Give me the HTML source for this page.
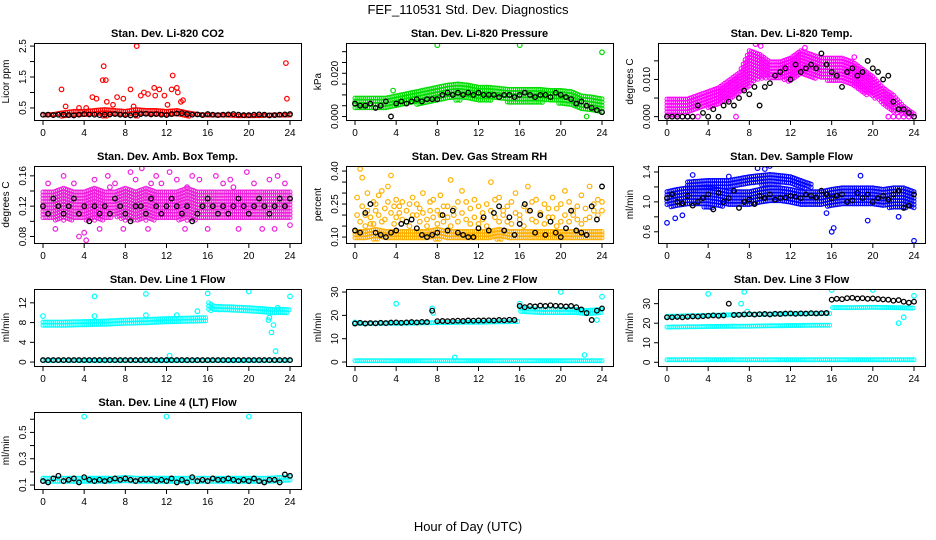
<!DOCTYPE html>
<html><head><meta charset="utf-8"><style>
html,body{margin:0;padding:0;background:#fff;}
svg{display:block;font-family:"Liberation Sans",sans-serif;}
</style></head><body>
<svg id="c" width="936" height="540" viewBox="0 0 936 540">
<rect width="936" height="540" fill="#fff"/>
<text x="468" y="14" text-anchor="middle" font-size="13">FEF_110531  Std. Dev. Diagnostics</text>
<text x="468" y="531" text-anchor="middle" font-size="13">Hour of Day (UTC)</text>
</svg>
<script>
const xTicks=[0,4,8,12,16,20,24];
const full=[0,1,2,3,4,5,6,7,8,9,10,11,12,13,14,15,16,17,18,19,20,21,22,23,24];
// P1 CO2
const co2Lo=[0.2,0.2,0.2,0.2,0.2,0.2,0.2,0.2,0.2,0.2,0.2,0.2,0.2,0.2,0.2,0.2,0.2,0.2,0.2,0.2,0.2,0.2,0.2,0.2,0.2];
const co2Hi=[0.3,0.32,0.38,0.42,0.42,0.45,0.48,0.45,0.42,0.48,0.45,0.45,0.42,0.45,0.38,0.32,0.3,0.3,0.3,0.28,0.28,0.28,0.3,0.3,0.3];
const co2OutX=[1.8,5.8,5.9,6.1,9.1,12.6,13.0,23.6,23.7,4.8,10.8,8.5,9.8,7.2,3.5,11.3,12.5,13.6,5.2,7.8,10.2,9.5,6.2,11.8,10.9,13.1,2.2,4.2,6.8,8.8,12.1,13.4];
const co2OutY=[1.1,1.4,1.85,1.4,2.5,1.55,1.15,1.95,0.8,0.85,1.15,1.1,1.0,0.85,0.5,1.1,1.1,0.75,0.8,0.8,0.95,0.9,0.7,0.9,0.9,1.0,0.55,0.5,0.6,0.55,0.6,0.7];
const co2Blk=[0.28,0.28,0.27,0.28,0.28,0.27,0.26,0.28,0.30,0.29,0.28,0.27,0.28,0.29,0.30,0.28,0.27,0.26,0.28,0.30,0.31,0.29,0.30,0.28,0.27,0.30,0.32,0.33,0.30,0.28,0.29,0.27,0.30,0.28,0.27,0.28,0.29,0.30,0.28,0.27,0.27,0.28,0.29,0.28,0.26,0.27,0.28,0.29,0.30];
// P2 Pressure
const prLo=[0.003,0.003,0.003,0.003,0.004,0.005,0.005,0.006,0.006,0.007,0.007,0.007,0.007,0.007,0.007,0.006,0.006,0.006,0.006,0.006,0.0055,0.005,0.003,0.002,0.0016];
const prHi=[0.009,0.009,0.009,0.009,0.010,0.011,0.012,0.013,0.014,0.015,0.0155,0.015,0.014,0.014,0.0135,0.013,0.013,0.013,0.013,0.0125,0.0125,0.012,0.010,0.0095,0.0086];
const prOutX=[8,16,24,22.5,3.7];
const prOutY=[0.033,0.033,0.0297,0.0,0.012];
const prBlk=[0.006,0.005,0.005,0.006,0.004,0.005,0.007,0.0,0.006,0.007,0.006,0.007,0.008,0.007,0.008,0.008,0.008,0.010,0.011,0.010,0.011,0.010,0.011,0.010,0.011,0.010,0.010,0.010,0.009,0.010,0.010,0.009,0.010,0.011,0.010,0.009,0.010,0.010,0.009,0.011,0.010,0.009,0.008,0.006,0.007,0.005,0.004,0.003,0.002];
// P3 Li-820 Temp
const tmLo=[0,0,0.001,0.002,0.002,0.003,0.004,0.006,0.008,0.010,0.010,0.010,0.009,0.011,0.010,0.010,0.009,0.009,0.008,0.006,0.005,0.003,0.001,0,0];
const tmHi=[0.005,0.005,0.005,0.006,0.007,0.008,0.010,0.012,0.018,0.017,0.015,0.015,0.016,0.018,0.017,0.016,0.016,0.016,0.015,0.013,0.011,0.008,0.006,0.003,0.001];
const tmOutX=[0.5,1,1.5,2,2.5,3,6.7,21.5,22,22.5,23,23.5,24,8.6,9.1,13.4,18.2];
const tmOutY=[0,0,0,0,0,0,0,0,0,0,0,0,0,0.0195,0.019,0.0185,0.016];
const tmBlk=[0,0,0,0,0,0,0.003,0.001,0,0.002,0,0.003,0.004,0.003,0.005,0.007,0.006,0.008,0.003,0.008,0.009,0.011,0.012,0.013,0.010,0.014,0.012,0.013,0.014,0.013,0.017,0.014,0.012,0.011,0.008,0.012,0.013,0.011,0.012,0.015,0.013,0.012,0.010,0.011,0.004,0.002,0.002,0.001,0];
// P4 Amb box temp
const abLo=[0.10,0.10,0.10,0.10,0.10,0.10,0.10,0.105,0.10,0.10,0.10,0.10,0.10,0.10,0.10,0.10,0.10,0.10,0.10,0.10,0.10,0.10,0.10,0.10,0.10];
const abHi=[0.14,0.14,0.145,0.14,0.14,0.145,0.14,0.14,0.145,0.14,0.145,0.14,0.14,0.14,0.145,0.14,0.14,0.14,0.14,0.14,0.14,0.14,0.14,0.14,0.14];
const abOutX=[0.5,1.2,2,3,3.5,4.2,5,5.5,6.3,7,7.8,8.5,9,9.6,10.2,11,11.5,12.3,13,13.8,14.5,15.2,16,16.8,17.5,18.2,19,19.8,20.5,21.3,22,22.8,23.5,24,4,6.5,10.5,14,18.5,22.5];
const abOutY=[0.15,0.09,0.16,0.15,0.08,0.075,0.155,0.09,0.16,0.15,0.09,0.165,0.155,0.17,0.09,0.16,0.15,0.165,0.155,0.09,0.16,0.155,0.09,0.16,0.15,0.155,0.09,0.165,0.15,0.09,0.155,0.16,0.15,0.095,0.085,0.145,0.15,0.145,0.145,0.09];
const abBlk=[0.12,0.11,0.13,0.12,0.11,0.12,0.13,0.11,0.12,0.10,0.12,0.11,0.12,0.11,0.13,0.12,0.11,0.10,0.12,0.12,0.11,0.13,0.12,0.11,0.12,0.13,0.12,0.11,0.12,0.10,0.11,0.12,0.13,0.12,0.11,0.12,0.11,0.12,0.13,0.12,0.11,0.12,0.13,0.12,0.11,0.12,0.13,0.12,0.13];
// P5 Gas stream RH
const rhLo=[0.085,0.085,0.085,0.085,0.085,0.085,0.085,0.085,0.085,0.085,0.085,0.085,0.085,0.085,0.085,0.085,0.085,0.085,0.085,0.085,0.085,0.085,0.085,0.085,0.085];
const rhHi=[0.13,0.13,0.14,0.13,0.13,0.13,0.13,0.13,0.14,0.13,0.13,0.13,0.13,0.13,0.14,0.13,0.13,0.13,0.13,0.13,0.13,0.13,0.13,0.13,0.13];
const rhOutX=[0.2,0.5,0.7,1,1.2,1.5,1.8,2,2.3,2.6,2.9,3.2,3.5,3.8,4,4.3,4.6,5,5.3,5.6,6,6.3,6.6,7,7.3,7.6,8,8.3,8.6,9,9.3,9.6,10,10.4,10.8,11.2,11.6,12,12.4,12.8,13.2,13.6,14,14.4,14.8,15.2,15.6,16,16.4,16.8,17.2,17.6,18,18.4,18.8,19.2,19.6,20,20.4,20.8,21.2,21.6,22,22.4,22.8,23.2,23.6,24];
const rhOutY=[0.28,0.41,0.37,0.2,0.3,0.16,0.26,0.22,0.29,0.31,0.18,0.33,0.38,0.24,0.27,0.21,0.26,0.17,0.25,0.28,0.2,0.23,0.3,0.15,0.26,0.19,0.22,0.29,0.17,0.24,0.36,0.2,0.26,0.31,0.18,0.23,0.27,0.16,0.21,0.25,0.35,0.19,0.28,0.22,0.17,0.26,0.3,0.2,0.24,0.33,0.18,0.27,0.21,0.25,0.19,0.28,0.23,0.17,0.31,0.26,0.2,0.24,0.29,0.18,0.33,0.22,0.27,0.26];
const rhOut2Y=[0.2,0.17,0.24,0.15,0.22,0.19,0.16,0.25,0.2,0.17,0.23,0.26,0.21,0.16,0.19,0.24,0.18,0.22,0.15,0.2,0.25,0.17,0.21,0.18,0.22,0.27,0.16,0.2,0.24,0.19,0.15,0.23,0.17,0.21,0.26,0.16,0.19,0.24,0.18,0.15,0.22,0.27,0.17,0.2,0.24,0.16,0.21,0.18,0.15,0.22,0.26,0.17,0.2,0.16,0.23,0.19,0.15,0.25,0.2,0.17,0.22,0.18,0.16,0.23,0.19,0.25,0.2,0.22];
const rhBlk=[0.13,0.12,0.21,0.25,0.12,0.11,0.10,0.12,0.13,0.16,0.17,0.18,0.14,0.11,0.10,0.11,0.12,0.20,0.13,0.22,0.12,0.11,0.10,0.10,0.14,0.19,0.13,0.21,0.24,0.13,0.19,0.11,0.16,0.25,0.22,0.12,0.20,0.11,0.17,0.12,0.10,0.14,0.22,0.13,0.12,0.11,0.24,0.18,0.33];
// P6 Sample flow
const sfLo=[0.92,0.9,0.92,0.93,0.9,0.92,0.93,0.94,0.95,0.95,0.96,0.96,0.95,0.95,0.94,0.93,0.92,0.92,0.93,0.93,0.92,0.92,0.9,0.9,0.9];
const sfHi=[1.15,1.18,1.2,1.2,1.2,1.18,1.15,1.15,1.15,1.18,1.2,1.2,1.18,1.15,1.15,1.15,1.18,1.2,1.2,1.2,1.2,1.18,1.2,1.2,1.15];
const sfUpX=[2,4,6,8,10,12,14];
const sfUpLo=[1.12,1.15,1.18,1.2,1.22,1.2,1.15];
const sfUpHi=[1.28,1.3,1.3,1.35,1.38,1.35,1.25];
const sfOutX=[0.8,1.5,0,8.8,10,9.5,16,16.2,24,19.5,22.5,15.5,2.5,6,18.8];
const sfOutY=[0.78,0.82,0.72,1.45,1.48,1.44,0.6,0.65,0.48,0.75,0.8,0.85,1.36,1.34,1.35];
const sfBlk=[1.05,1.1,1.0,0.98,1.08,0.95,1.0,1.05,1.1,0.9,1.12,1.0,1.05,1.15,0.92,1.0,1.03,0.97,1.08,1.05,1.1,1.03,1.05,1.06,1.08,1.07,1.05,1.1,1.08,1.06,1.15,1.1,1.05,1.08,1.1,1.0,1.02,1.12,1.05,1.1,1.0,1.05,1.08,1.03,1.1,1.15,0.92,0.95,1.1];
// P7 Line 1 flow
const l1AX=[0,2,4,6,8,10,12,14,15.9];
const l1ALo=[7.0,7.0,7.1,7.2,7.3,7.5,7.5,7.6,7.7];
const l1AHi=[8.3,8.3,8.4,8.5,8.7,8.8,9.0,9.1,9.2];
const l1BX=[16.1,16.6,18,20,21.5,22.5,23,24];
const l1BLo=[10.2,10.0,10.0,10.0,9.8,9.5,9.5,9.8];
const l1BHi=[12.2,11.5,11.4,11.2,11.0,10.8,10.9,10.8];
const l1ZLo=[0.2,0.2,0.2,0.2,0.2,0.2,0.2,0.2,0.2,0.2,0.2,0.2,0.2,0.2,0.2,0.2,0.2,0.2,0.2,0.2,0.2,0.2,0.2,0.2,0.2];
const l1ZHi=[0.5,0.5,0.5,0.5,0.5,0.5,0.5,0.5,0.5,0.5,0.5,0.5,0.5,0.5,0.5,0.5,0.5,0.5,0.5,0.5,0.5,0.5,0.5,0.5,0.5];
const l1OutX=[0,5,5,10,10,12.3,13,15,16,20,24,22,22.2,22.4,22.6,22.8,21.9];
const l1OutY=[9.3,13.3,9.3,13.8,9.5,1.3,9.5,10.3,13.9,14.3,13.3,9,6,7.5,2.2,11,8.5];
const l1Blk=[0.4,0.4,0.4,0.4,0.4,0.4,0.4,0.4,0.4,0.4,0.4,0.4,0.4,0.4,0.4,0.4,0.4,0.4,0.4,0.4,0.4,0.4,0.4,0.4,0.4,0.4,0.4,0.4,0.4,0.4,0.4,0.4,0.4,0.4,0.4,0.4,0.4,0.4,0.4,0.4,0.4,0.4,0.4,0.4,0.4,0.4,0.4,0.4,0.4];
// P8 Line 2 flow
const l2AX=[0,4,8,12,15.9];
const l2ALo=[15,15,15.2,15.5,15.8];
const l2AHi=[17,17,17.3,17.5,17.8];
const l2BX=[16.1,18,20,21.5,22.5,24];
const l2BLo=[20,20.2,20.5,20.5,19,20];
const l2BHi=[23.5,23,23,23,22.5,23];
const l2ZLo=[0.3,0.3,0.3,0.3,0.3,0.3,0.3,0.3,0.3,0.3,0.3,0.3,0.3,0.3,0.3,0.3,0.3,0.3,0.3,0.3,0.3,0.3,0.3,0.3,0.3];
const l2ZHi=[1.0,1.0,1.0,1.0,1.0,1.0,1.0,1.0,1.0,1.0,1.0,1.0,1.0,1.0,1.0,1.0,1.0,1.0,1.0,1.0,1.0,1.0,1.0,1.0,1.0];
const l2OutX=[4,7.5,9.7,16,20,22.3,24,7.6,23.5,0];
const l2OutY=[25,23,2,25,30,3,28,21,18,17];
const l2Blk=[16.5,16.8,16.5,16.7,16.6,16.8,16.7,16.9,17,16.8,17,17.1,17.0,17.2,17.1,22,17.5,17.6,17.5,17.6,17.7,17.6,17.8,17.7,17.8,17.8,17.9,17.8,18.0,17.9,18.1,18.0,24,23.5,24,23.8,24.2,24,24.3,24.1,24,23.8,24,23.5,22.5,21,18,22,23];
// P9 Line 3 flow
const l3AX=[0,4,8,12,15.9];
const l3ALo=[16.5,16.8,17,17.3,17.5];
const l3AHi=[18.5,18.8,19,19.3,19.5];
const l3UX=[0,4,8,12,15.9];
const l3ULo=[22,22.5,23,23.5,24];
const l3UHi=[24,24.5,25,25.3,25.5];
const l3BX=[16.1,18,20,22,24];
const l3BLo=[26,26.2,26.3,26.2,26];
const l3BHi=[28.5,28.5,28.6,28.5,28.2];
const l3ZLo=[0.5,0.5,0.5,0.5,0.5,0.5,0.5,0.5,0.5,0.5,0.5,0.5,0.5,0.5,0.5,0.5,0.5,0.5,0.5,0.5,0.5,0.5,0.5,0.5,0.5];
const l3ZHi=[1.8,1.8,1.8,1.8,1.8,1.8,1.8,1.8,1.8,1.8,1.8,1.8,1.8,1.8,1.8,1.8,1.8,1.8,1.8,1.8,1.8,1.8,1.8,1.8,1.8];
const l3OutX=[4,7.5,7.2,16,20,22.5,24,23,7.8];
const l3OutY=[35,36,30,37,37,20,34,23,26];
const l3Blk=[23,23,23.2,23,23.3,23.5,23.4,23.6,23.8,24,23.8,24,30,24.2,24.3,24.5,24.6,24.4,24.6,24.7,24.5,24.8,24.7,24.9,25,24.8,25,24.9,25.1,25,25.1,25.2,32,32.5,32.3,32.8,33,32.6,32.8,32.5,32.7,32.4,32.2,32,31.5,31.8,31,30.5,31];
// P10 Line 4 (LT) flow
const l4Lo=[0.11,0.11,0.11,0.11,0.11,0.11,0.11,0.11,0.11,0.11,0.11,0.11,0.11,0.11,0.11,0.11,0.11,0.11,0.11,0.11,0.11,0.11,0.11,0.11,0.11];
const l4Hi=[0.16,0.16,0.16,0.16,0.16,0.16,0.16,0.16,0.165,0.16,0.16,0.16,0.16,0.16,0.16,0.16,0.16,0.16,0.16,0.16,0.16,0.16,0.16,0.165,0.17];
const l4OutX=[4,12,20];
const l4OutY=[0.62,0.62,0.62];
const l4Blk=[0.13,0.12,0.15,0.17,0.13,0.14,0.15,0.12,0.16,0.14,0.13,0.14,0.13,0.14,0.15,0.14,0.15,0.14,0.13,0.14,0.14,0.14,0.13,0.14,0.13,0.15,0.12,0.14,0.12,0.16,0.13,0.14,0.13,0.15,0.14,0.14,0.15,0.14,0.13,0.14,0.13,0.15,0.13,0.12,0.14,0.14,0.12,0.18,0.17];

const NS='http://www.w3.org/2000/svg';
const svg=document.getElementById('c');
function mk(tag,attrs,parent){const e=document.createElementNS(NS,tag);for(const k in attrs)e.setAttribute(k,attrs[k]);parent.appendChild(e);return e;}

const panels=[
 {name:'co2',title:'Stan. Dev. Li-820 CO2',ylab:'Licor ppm',r:0,c:0,ylim:[0.11,2.6],ticks:[0.5,1,1.5,2,2.5],labels:['0.5','','1.5','','2.5'],col:'#ff0000',
  bands:[[full,co2Lo,co2Hi]],outs:[[co2OutX,co2OutY]],blk:co2Blk},
 {name:'pressure',title:'Stan. Dev. Li-820 Pressure',ylab:'kPa',r:0,c:1,ylim:[-0.0016,0.034],ticks:[0,0.005,0.01,0.015,0.02,0.025,0.03],labels:['0.000','','','','0.020','',''],col:'#00dd00',
  bands:[[full,prLo,prHi]],outs:[[prOutX,prOutY]],blk:prBlk},
 {name:'temp',title:'Stan. Dev. Li-820 Temp.',ylab:'degrees C',r:0,c:2,ylim:[-0.0009,0.0198],ticks:[0,0.005,0.01,0.015],labels:['0.000','','0.010',''],col:'#ff00ff',
  bands:[[full,tmLo,tmHi]],outs:[[tmOutX,tmOutY]],blk:tmBlk},
 {name:'amb-box-temp',title:'Stan. Dev. Amb. Box Temp.',ylab:'degrees C',r:1,c:0,ylim:[0.0714,0.173],ticks:[0.08,0.1,0.12,0.14,0.16],labels:['0.08','','0.12','','0.16'],col:'#ee22dd',
  bands:[[full,abLo,abHi]],outs:[[abOutX,abOutY]],blk:abBlk},
 {name:'gas-rh',title:'Stan. Dev. Gas Stream RH',ylab:'percent',r:1,c:1,ylim:[0.073,0.423],ticks:[0.1,0.15,0.2,0.25,0.3,0.35,0.4],labels:['0.10','','','0.25','','','0.40'],col:'#ffb000',
  bands:[[full,rhLo,rhHi]],outs:[[rhOutX,rhOutY],[rhOutX,rhOut2Y]],blk:rhBlk},
 {name:'sample-flow',title:'Stan. Dev. Sample Flow',ylab:'ml/min',r:1,c:2,ylim:[0.45,1.48],ticks:[0.6,0.8,1.0,1.2,1.4],labels:['0.6','','1.0','','1.4'],col:'#0000ff',
  bands:[[full,sfLo,sfHi],[sfUpX,sfUpLo,sfUpHi]],outs:[[sfOutX,sfOutY]],blk:sfBlk},
 {name:'line1-flow',title:'Stan. Dev. Line 1 Flow',ylab:'ml/min',r:2,c:0,ylim:[-0.8,14.8],ticks:[0,4,8,12],labels:['0','4','8','12'],col:'#00ffff',
  bands:[[l1AX,l1ALo,l1AHi],[l1BX,l1BLo,l1BHi],[full,l1ZLo,l1ZHi]],outs:[[l1OutX,l1OutY]],blk:l1Blk},
 {name:'line2-flow',title:'Stan. Dev. Line 2 Flow',ylab:'ml/min',r:2,c:1,ylim:[-1.7,31.3],ticks:[0,10,20,30],labels:['0','10','20','30'],col:'#00ffff',
  bands:[[l2AX,l2ALo,l2AHi],[l2BX,l2BLo,l2BHi],[full,l2ZLo,l2ZHi]],outs:[[l2OutX,l2OutY]],blk:l2Blk},
 {name:'line3-flow',title:'Stan. Dev. Line 3 Flow',ylab:'ml/min',r:2,c:2,ylim:[-1.9,37.5],ticks:[0,10,20,30],labels:['0','10','20','30'],col:'#00ffff',
  bands:[[l3AX,l3ALo,l3AHi],[l3UX,l3ULo,l3UHi],[l3BX,l3BLo,l3BHi],[full,l3ZLo,l3ZHi]],outs:[[l3OutX,l3OutY]],blk:l3Blk},
 {name:'line4-flow',title:'Stan. Dev. Line 4 (LT) Flow',ylab:'ml/min',r:3,c:0,ylim:[0.07,0.655],ticks:[0.1,0.2,0.3,0.4,0.5,0.6],labels:['0.1','','0.3','','0.5',''],col:'#00ffff',
  bands:[[full,l4Lo,l4Hi]],outs:[[l4OutX,l4OutY]],blk:l4Blk}
];
const rowTop=[43,166,289,412];
panels.forEach(p=>{
  const L=34+p.c*312, T=rowTop[p.r], W=267, H=77, B=T+H;
  const x0=L+9, x1=L+256;
  const xs=h=>x0+h*(x1-x0)/24;
  const ys=v=>B-(v-p.ylim[0])/(p.ylim[1]-p.ylim[0])*H;
  const g=mk('g',{},svg);
  
  
  const cp=mk('clipPath',{id:'cp-'+p.name},g);
  mk('rect',{x:L,y:T,width:W,height:H},cp);
  const t=mk('text',{x:L+W/2,y:T-6,'text-anchor':'middle','font-size':'11','font-weight':'bold'},g);
  t.textContent=p.title;
  
  
  const yl=mk('text',{transform:`translate(${L-25},${T+H/2}) rotate(-90)`,'text-anchor':'middle','font-size':'10'},g);
  yl.textContent=p.ylab;
  
  
  const mg=mk('g',{'clip-path':`url(#cp-${p.name})`},g);
  
  
  const cstroke=p.col;
  p.bands.forEach(b=>{
    const bx=b[0],lo=b[1],hi=b[2];
    for(let h=bx[0];h<=bx[bx.length-1]+1e-9;h+=0.2){
      let k=0;while(k<bx.length-2&&h>bx[k+1])k++;
      const f=(bx[k+1]-bx[k])?(h-bx[k])/(bx[k+1]-bx[k]):0;
      const l=lo[k]+(lo[k+1]-lo[k])*f, u=hi[k]+(hi[k+1]-hi[k])*f;
      const yTop=ys(u)+1, yBot=ys(l)-1;
      for(let y=yTop;y<=yBot+0.01||y===yTop;y+=3.2){
        const cc=mk('circle',{cx:xs(h).toFixed(1),cy:y.toFixed(1),r:2,fill:'none',stroke:cstroke,'stroke-width':1},mg);
        
        
        if(y>yBot)break;
      }
    }
  });
  p.outs.forEach(o=>{
    const n=Math.min(o[0].length,o[1].length);
    for(let i=0;i<n;i++){
      const cc=mk('circle',{cx:xs(o[0][i]).toFixed(1),cy:ys(o[1][i]).toFixed(1),r:2.3,fill:'none',stroke:cstroke,'stroke-width':1.2},mg);
      
      
    }
  });
  p.blk.forEach((v,i)=>{
    const cc=mk('circle',{cx:xs(i*0.5).toFixed(1),cy:ys(v).toFixed(1),r:2.3,fill:'none',stroke:'#000','stroke-width':1.3},mg);
    
    
  });
  const bx=mk('rect',{x:L+0.5,y:T+0.5,width:W,height:H,fill:'none',stroke:'#000','stroke-width':1},g);
  
  
  const xa=mk('g',{},g);
  
  
  xTicks.forEach(v=>{
    mk('line',{x1:xs(v),x2:xs(v),y1:B+0.5,y2:B+5,stroke:'#000'},xa);
    const tl=mk('text',{x:xs(v),y:B+16,'text-anchor':'middle','font-size':'10'},xa);
    tl.textContent=String(v);
  });
  const ya=mk('g',{},g);
  
  
  p.ticks.forEach((v,i)=>{
    const y=ys(v);
    mk('line',{x1:L-4,x2:L+0.5,y1:y,y2:y,stroke:'#000'},ya);
    if(p.labels[i]){
      const tl=mk('text',{transform:`translate(${L-8},${y}) rotate(-90)`,'text-anchor':'middle','font-size':'10'},ya);
      tl.textContent=p.labels[i];
    }
  });
});
</script>
</body></html>
